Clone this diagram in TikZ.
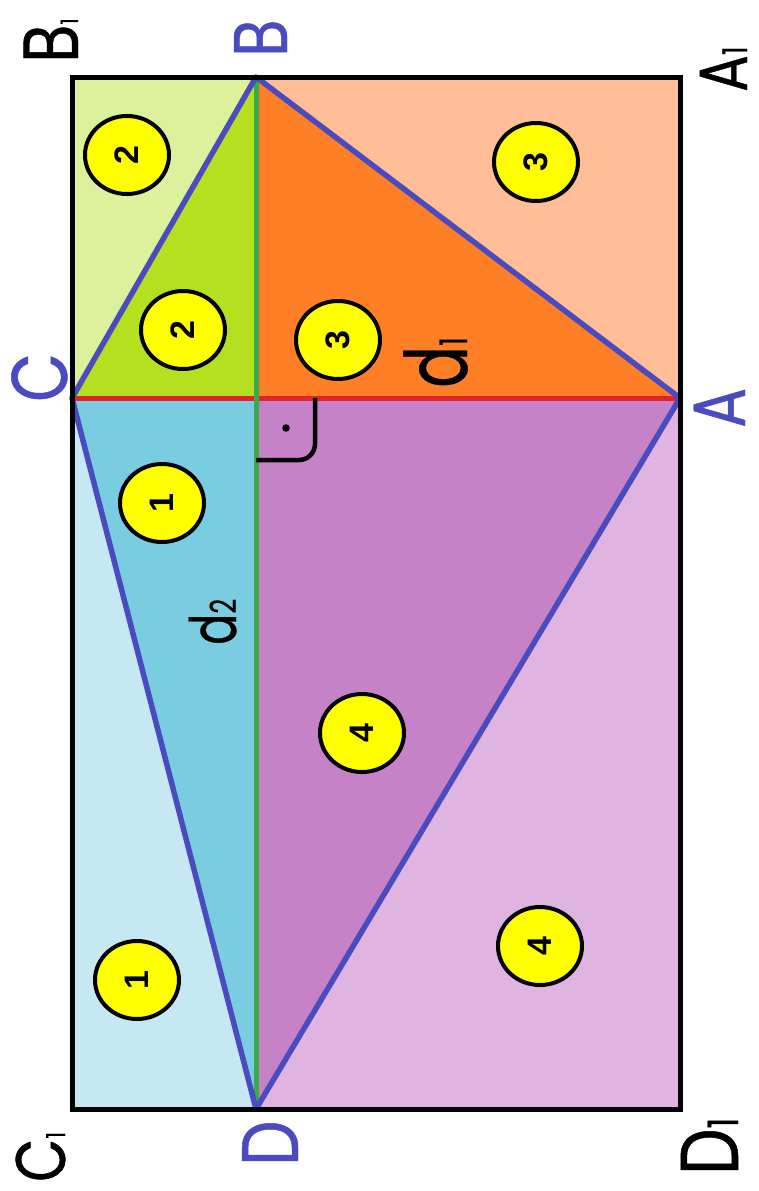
\documentclass[tikz,border=0pt]{standalone}
\usepackage{fontspec}
\newfontfamily\labfont[FakeStretch=0.8,FakeBold=0.6]{Poppins}
\newfontfamily\dfont[FakeStretch=0.72,FakeBold=0.4]{Poppins}
\newfontfamily\numfont{Liberation Sans}
\usetikzlibrary{shapes.geometric}
\definecolor{tlc}{HTML}{DDF09C}
\definecolor{trc}{HTML}{FFBE98}
\definecolor{blc}{HTML}{C5E8F2}
\definecolor{brc}{HTML}{E0B4E0}
\definecolor{tri2}{HTML}{B3E11F}
\definecolor{tri3}{HTML}{FF7F27}
\definecolor{tri1}{HTML}{7ACCE0}
\definecolor{tri4}{HTML}{C682C6}
\definecolor{bl}{HTML}{4B4BC0}
\definecolor{rd}{HTML}{E0242A}
\definecolor{gr}{HTML}{3BAA4A}
\definecolor{yl}{HTML}{FFFF00}
\tikzset{
  num/.style={ellipse,draw=black,line width=4pt,fill=yl,minimum width=78pt,minimum height=84pt,inner sep=0pt,
    font=\numfont\bfseries\fontsize{34}{34}\selectfont,rotate=90},
  lab/.style={inner sep=0pt,rotate=90,anchor=base west},
  blab/.style={lab,text=bl},
  klab/.style={lab,text=black},
  dlab/.style={inner sep=0pt,rotate=90,anchor=base west,text=black},
  bline/.style={draw=bl,line width=5.5pt,line cap=round,line join=round}
}
\newcommand{\fs}[1]{\labfont\fontsize{#1}{#1}\selectfont}
\newcommand{\sub}[2]{{\fontsize{#1}{#1}\selectfont #2}}
\begin{document}
\begin{tikzpicture}[x=1pt,y=-1pt]
\useasboundingbox (0,0) rectangle (758,1191);
\coordinate (B1) at (72,77);
\coordinate (A1) at (680,77);
\coordinate (C1) at (72,1109);
\coordinate (D1) at (680,1109);
\coordinate (B) at (256,77);
\coordinate (C) at (72,398);
\coordinate (A) at (680,398);
\coordinate (D) at (256,1109);
\coordinate (O) at (256,398);
% outer regions
\fill[tlc] (B1) rectangle (O);
\fill[trc] (B) rectangle (A);
\fill[blc] (C) rectangle (D);
\fill[brc] (O) rectangle (D1);
% inner triangles
\fill[tri2] (C) -- (B) -- (O) -- cycle;
\fill[tri3] (B) -- (A) -- (O) -- cycle;
\fill[tri1] (C) -- (O) -- (D) -- cycle;
\fill[tri4] (O) -- (A) -- (D) -- cycle;
% diagonals
\draw[rd,line width=5pt] (C) -- (A);
\draw[gr,line width=5pt] (B) -- (D);
% right angle
\coordinate (ra1) at (315,398);
\coordinate (ra2) at (315,460);
\coordinate (ra3) at (256,460);
\draw[line width=4.5pt,rounded corners=16pt] (ra1) -- (ra2) -- (ra3);
\fill (286,428) circle (3.8pt);
% kite
\draw[bline] (C) -- (B) -- (A) -- (D) -- cycle;
% border
\draw[line width=5pt] (B1) rectangle (D1);
% numbers
\node[num] (n2a) at (127,155) {2};
\node[num] (n2b) at (183,330) {2};
\node[num] (n3a) at (338,340) {3};
\node[num] (n3b) at (536,162) {3};
\node[num] (n1a) at (162,503) {1};
\node[num] (n1b) at (137,980) {1};
\node[num] (n4a) at (362,733) {4};
\node[num] (n4b) at (540,946) {4};
% labels
\node[klab,font=\fs{78}] (lB1) at (78,63) {B\sub{24}{1}};
\node[blab,font=\fs{76}] (lB) at (287,57) {B};
\node[klab,font=\fs{68}] (lA1) at (747,92) {A\sub{34}{1}};
\node[blab,font=\fs{79}] (lC) at (67,402) {C};
\node[blab,font=\fs{74}] (lA) at (745,428) {A};
\node[klab,font=\fs{70}] (lC1) at (65,1182) {C\sub{26}{1}};
\node[blab,font=\fs{80}] (lD) at (298,1166) {D};
\node[klab,font=\fs{82}] (lD1) at (738,1175) {D\sub{42}{1}};
\node[dlab,font=\dfont\fontsize{86}{86}\selectfont] (ld1) at (467,388) {d{\fontsize{38}{38}\selectfont 1}};
\node[dlab,font=\dfont\fontsize{64}{64}\selectfont] (ld2) at (236,645) {d{\fontsize{36}{36}\selectfont 2}};
\end{tikzpicture}
\end{document}
